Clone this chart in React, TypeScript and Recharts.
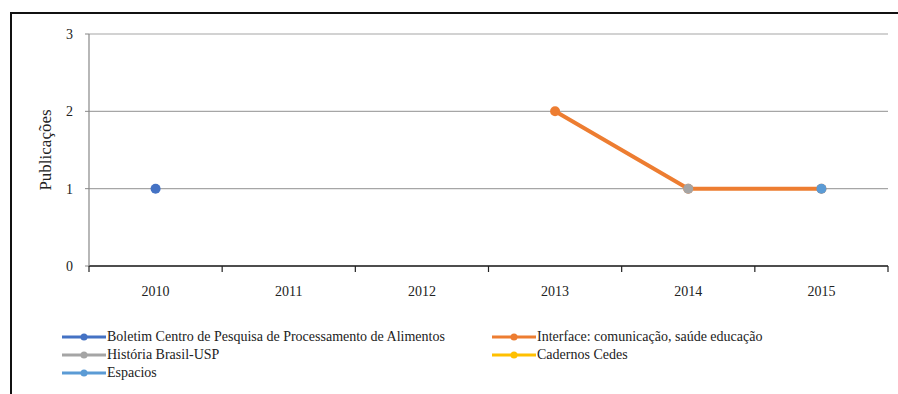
import React from 'react';
import { LineChart, Line, XAxis, YAxis, CartesianGrid } from 'recharts';

const years = ['2010', '2011', '2012', '2013', '2014', '2015'];
const yTicks = [0, 1, 2, 3];

const boletim = [1, null, null, null, null, null];
const interfaceCom = [null, null, null, 2, 1, 1];
const historia = [null, null, null, null, 1, null];
const cadernos = [null, null, null, null, null, null];
const espacios = [null, null, null, null, null, 1];

const series = [
  { key: 'boletim', name: 'Boletim Centro de Pesquisa de Processamento de Alimentos', color: '#4472C4', values: boletim },
  { key: 'interface', name: 'Interface: comunicação, saúde educação', color: '#ED7D31', values: interfaceCom },
  { key: 'historia', name: 'História Brasil-USP', color: '#A5A5A5', values: historia },
  { key: 'cadernos', name: 'Cadernos Cedes', color: '#FFC000', values: cadernos },
  { key: 'espacios', name: 'Espacios', color: '#5B9BD5', values: espacios },
];

const data = years.map((year, i) => {
  const row: Record<string, string | number | null> = { year };
  series.forEach((s) => {
    row[s.key] = s.values[i];
  });
  return row;
});

const FONT = "'Times New Roman', 'Liberation Serif', serif";

function YearTick(props: any) {
  const { x, y, payload, index, visibleTicksCount, width } = props;
  const band = width / visibleTicksCount;
  const left = x - band / 2;
  const isLast = index === visibleTicksCount - 1;
  return (
    <g>
      <line x1={left} y1={y} x2={left} y2={y + 6} stroke="#222" strokeWidth={1.2} />
      {isLast && <line x1={left + band} y1={y} x2={left + band} y2={y + 6} stroke="#222" strokeWidth={1.2} />}
      <text x={x} y={y + 30} textAnchor="middle" fontSize={14} fontFamily={FONT} fill="#222">
        {payload.value}
      </text>
    </g>
  );
}

function LegendItem({ name, color }: { name: string; color: string }) {
  return (
    <div style={{ display: 'flex', alignItems: 'center', height: 18 }}>
      <svg width={44} height={10} style={{ marginRight: 1 }}>
        <line x1={0} y1={5} x2={44} y2={5} stroke={color} strokeWidth={3} />
        <circle cx={22} cy={5} r={3.5} fill={color} />
      </svg>
      <span style={{ fontFamily: FONT, fontSize: 14, color: '#222', whiteSpace: 'nowrap' }}>{name}</span>
    </div>
  );
}

export default function App() {
  const left = series.filter((_, i) => i % 2 === 0);
  const right = series.filter((_, i) => i % 2 === 1);
  return (
    <div style={{ position: 'absolute', left: 0, top: 0, width: 898, height: 394, background: '#fff', overflow: 'hidden' }}>
      <div
        style={{
          position: 'absolute',
          left: 10,
          top: 12,
          width: 900,
          height: 400,
          borderLeft: '2px solid #111',
          borderTop: '2px solid #111',
        }}
      />
      <div style={{ position: 'absolute', left: 0, top: 0 }}>
        <LineChart width={898} height={394} data={data} margin={{ top: 34, right: 10, bottom: 88, left: 0 }}>
          <CartesianGrid vertical={false} stroke="#A6A6A6" strokeWidth={1.2} />
          <XAxis
            dataKey="year"
            scale="band"
            tick={<YearTick />}
            tickLine={false}
            tickSize={0}
            tickMargin={0}
            axisLine={{ stroke: '#222', strokeWidth: 1.5 }}
            interval={0}
            height={40}
          />
          <YAxis
            domain={[0, 3]}
            ticks={yTicks}
            width={89}
            tickSize={4}
            tickMargin={12}
            tick={{ fontSize: 14, fontFamily: FONT, fill: '#222' }}
            tickLine={{ stroke: '#888' }}
            axisLine={{ stroke: '#888', strokeWidth: 1.2 }}
            label={{
              value: 'Publicações',
              angle: -90,
              position: 'insideLeft',
              offset: 45,
              style: { textAnchor: 'middle', fontSize: 17, fontFamily: FONT, fill: '#222' },
            }}
          />
          {series.map((s) => (
            <Line
              key={s.key}
              dataKey={s.key}
              name={s.name}
              stroke={s.color}
              strokeWidth={4}
              dot={{ r: 5, fill: s.color, stroke: s.color, strokeWidth: 0 }}
              activeDot={false}
              isAnimationActive={false}
              connectNulls={false}
            />
          ))}
        </LineChart>
      </div>
      <div style={{ position: 'absolute', left: 62, top: 328 }}>
        {left.map((s) => (
          <LegendItem key={s.key} name={s.name} color={s.color} />
        ))}
      </div>
      <div style={{ position: 'absolute', left: 492, top: 328 }}>
        {right.map((s) => (
          <LegendItem key={s.key} name={s.name} color={s.color} />
        ))}
      </div>
    </div>
  );
}
